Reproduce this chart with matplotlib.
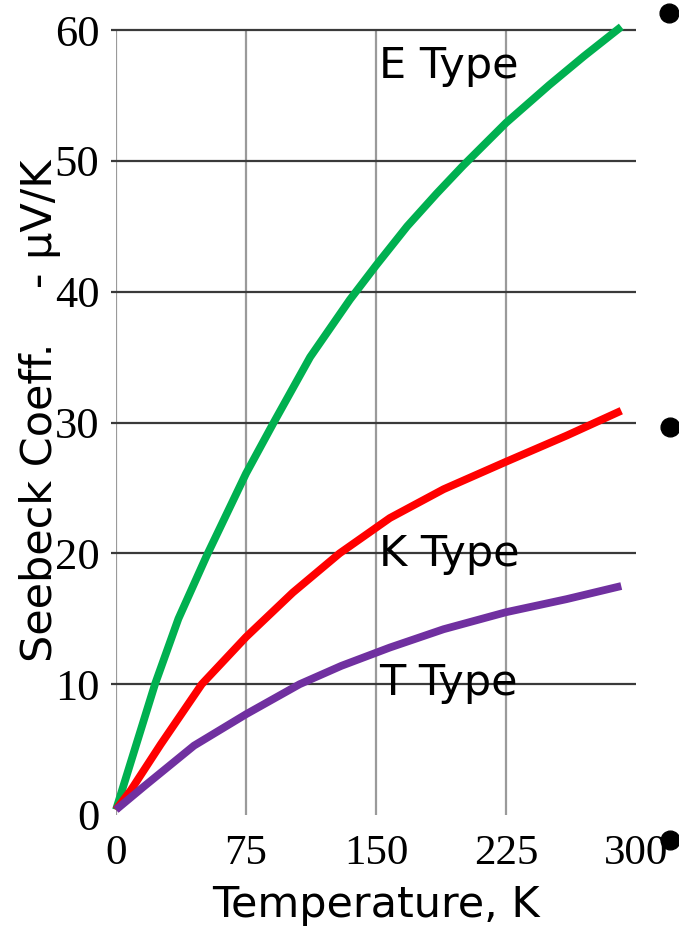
import matplotlib
matplotlib.use("Agg")
import matplotlib.pyplot as plt
from matplotlib.lines import Line2D

# ---- data ----
temp_E = [0, 22.5, 36, 52.6, 75, 91, 112, 135, 150, 168, 185, 200, 225, 250, 270, 291.5]
seebeck_E = [0.4, 10.0, 15.0, 19.9, 26.1, 30.0, 35.0, 39.4, 42.0, 45.0, 47.5, 49.6, 52.9, 55.8, 58.0, 60.25]

temp_K = [0, 8.6, 25.8, 49.5, 75, 102, 129, 158, 189, 225, 260, 291.5]
seebeck_K = [0.4, 1.9, 5.4, 10.0, 13.6, 17.0, 20.0, 22.7, 24.9, 27.0, 29.0, 30.9]

temp_T = [0, 16.3, 45, 75, 106, 130, 158, 189, 225, 260, 291.5]
seebeck_T = [0.4, 2.2, 5.3, 7.7, 10.0, 11.4, 12.8, 14.2, 15.5, 16.5, 17.5]

series_names = ["E Type", "K Type", "T Type"]
label_x = [152, 151.5, 152]
label_y = [56.3, 19.0, 9.2]

x_ticks = [0, 75, 150, 225, 300]
y_ticks = [0, 10, 20, 30, 40, 50, 60]

x_label = "Temperature, K"
y_label = "Seebeck Coeff.    - μV/K"

# ---- figure ----
W, H = 679, 927
fig = plt.figure(figsize=(W / 100, H / 100), dpi=100)
ax = fig.add_axes([116 / W, 1 - 815 / H, (636 - 116) / W, (815 - 30) / H])
ax.set_xlim(0, 300)
ax.set_ylim(0, 60)
for s in ax.spines.values():
    s.set_visible(False)

# grid
ax.vlines(x_ticks[:-1], 0, 60, colors="#9a9a9a", linewidth=1.6, zorder=1)
ax.hlines(y_ticks[1:], -3, 300, colors="#3a3a3a", linewidth=1.6, zorder=1, clip_on=False)

# curves
lw = 5.6
for xs, ys, c in [(temp_E, seebeck_E, "#00B050"),
                  (temp_K, seebeck_K, "#FF0000"),
                  (temp_T, seebeck_T, "#7030A0")]:
    ax.plot(xs, ys, color=c, linewidth=lw, solid_capstyle="butt",
            solid_joinstyle="round", clip_on=False, zorder=3)

for name, lx, ly in zip(series_names, label_x, label_y):
    ax.text(lx, ly, name, fontsize=31, family="DejaVu Sans", ha="left", va="baseline", zorder=4)

# ticks
ax.set_xticks(x_ticks)
ax.set_xticklabels([str(t) for t in x_ticks], fontsize=31, family="Liberation Serif")
ax.set_yticks(y_ticks)
ax.set_yticklabels([str(t) for t in y_ticks], fontsize=32, family="Liberation Serif")
ax.tick_params(axis="both", length=0)
ax.tick_params(axis="x", pad=14)
ax.tick_params(axis="y", pad=12)

ax.set_xlabel(x_label, fontsize=31, family="DejaVu Sans", labelpad=8)
fig.text(40 / W, 1 - 411 / H, y_label, rotation=90, fontsize=31, family="DejaVu Sans",
         ha="center", va="center")

# slide bullets
bullet_px = [(669, 13), (670, 427), (670, 840)]
for bx, by in bullet_px:
    fig.add_artist(Line2D([bx / W], [1 - by / H], transform=fig.transFigure, marker="o",
                          markersize=13.5, color="black", linestyle="none", zorder=5))

fig.savefig("out.png", dpi=100)
